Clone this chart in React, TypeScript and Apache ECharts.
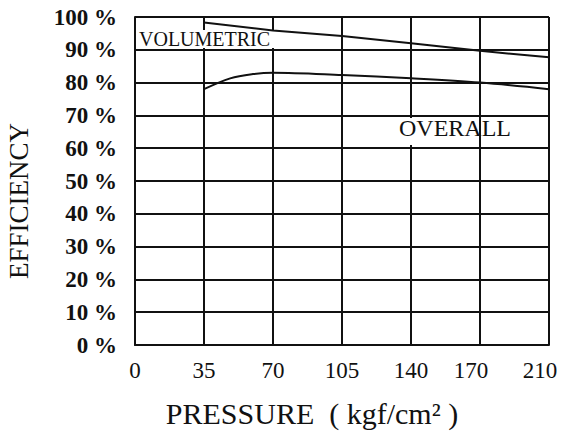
import React, { useEffect, useRef } from "react";
import * as echarts from "echarts";

const pressureLabels = ["0", "35", "70", "105", "140", "170", "210"];
const yTicks = [0, 10, 20, 30, 40, 50, 60, 70, 80, 90, 100];
// x given as position index along the pressure axis (labels above are evenly spaced)
const volumetricX = [1, 2, 3, 4, 5, 6];
const volumetricY = [98.3, 95.9, 94.2, 92.0, 89.7, 87.7];
const overallX = [1, 1.38, 1.71, 2, 3, 4, 5, 6];
const overallY = [78.0, 81.3, 82.6, 83.0, 82.3, 81.3, 80.0, 78.0];

const FONT = "'Liberation Serif', 'Times New Roman', serif";

export default function App() {
  const ref = useRef<HTMLDivElement>(null);
  useEffect(() => {
    document.body.style.margin = "0";
    if (!ref.current) return;
    const chart = echarts.init(ref.current, null, { renderer: "svg", width: 561, height: 432 });
    const lineStyle = { color: "#111", width: 2 };
    const labelRich = {
      fontFamily: FONT,
      fontSize: 23,
      color: "#111",
    };
    chart.setOption({
      animation: false,
      backgroundColor: "#fff",
      grid: { left: 135, top: 17, right: 12, bottom: 87, containLabel: false },
      xAxis: {
        type: "value",
        min: 0,
        max: 6,
        interval: 1,
        axisLine: { show: true, lineStyle: { color: "#111", width: 2 } },
        axisTick: { show: false },
        splitLine: { show: true, lineStyle: { color: "#111", width: 2 } },
        axisLabel: {
          color: "#111",
          fontFamily: FONT,
          fontSize: 23,
          margin: 14,
          formatter: (v: number) => {
            const i = Math.round(v);
            const t = pressureLabels[i] ?? "";
            if (i >= 5) return `{s|${t}}`;
            return t;
          },
          rich: {
            s: { ...labelRich, padding: [0, 18, 0, 0] },
          },
        },
      },
      yAxis: {
        type: "value",
        min: yTicks[0],
        max: yTicks[yTicks.length - 1],
        interval: 10,
        axisLine: { show: true, lineStyle: { color: "#111", width: 2 } },
        axisTick: { show: false },
        splitLine: { show: true, lineStyle: { color: "#111", width: 2 } },
        axisLabel: {
          color: "#111",
          fontFamily: FONT,
          fontSize: 23,
          fontWeight: "bold",
          margin: 18,
          formatter: (v: number) => `${v} %`,
        },
      },
      series: [
        {
          name: "VOLUMETRIC",
          type: "line",
          data: volumetricX.map((x, i) => [x, volumetricY[i]]),
          showSymbol: false,
          lineStyle,
          z: 5,
        },
        {
          name: "OVERALL",
          type: "line",
          data: overallX.map((x, i) => [x, overallY[i]]),
          smooth: 0.35,
          showSymbol: false,
          lineStyle,
          z: 5,
        },
      ],
      graphic: [
        { type: "rect", z: 3, shape: { x: 138, y: 30, width: 140, height: 18 }, style: { fill: "#fff" } },
        {
          type: "text",
          z: 10,
          x: 139,
          y: 39,
          style: { text: "VOLUMETRIC", font: `20px ${FONT}`, fill: "#111", textVerticalAlign: "middle" },
        },
        { type: "rect", z: 3, shape: { x: 400, y: 118, width: 18, height: 27 }, style: { fill: "#fff" } },
        {
          type: "text",
          z: 10,
          x: 399,
          y: 128,
          style: { text: "OVERALL", font: `24px ${FONT}`, fill: "#111", textVerticalAlign: "middle" },
        },
        {
          type: "text",
          z: 10,
          x: 19,
          y: 201,
          rotation: Math.PI / 2,
          style: {
            text: "EFFICIENCY",
            font: `27px ${FONT}`,
            fill: "#111",
            textAlign: "center",
            textVerticalAlign: "middle",
          },
        },
        {
          type: "text",
          z: 10,
          x: 312,
          y: 413,
          style: {
            text: "PRESSURE  ( kgf/cm² )",
            font: `30px ${FONT}`,
            fill: "#111",
            textAlign: "center",
            textVerticalAlign: "middle",
          },
        },
      ],
    });
    return () => chart.dispose();
  }, []);
  return <div ref={ref} style={{ width: 561, height: 432, position: "absolute", left: 0, top: 0 }} />;
}
